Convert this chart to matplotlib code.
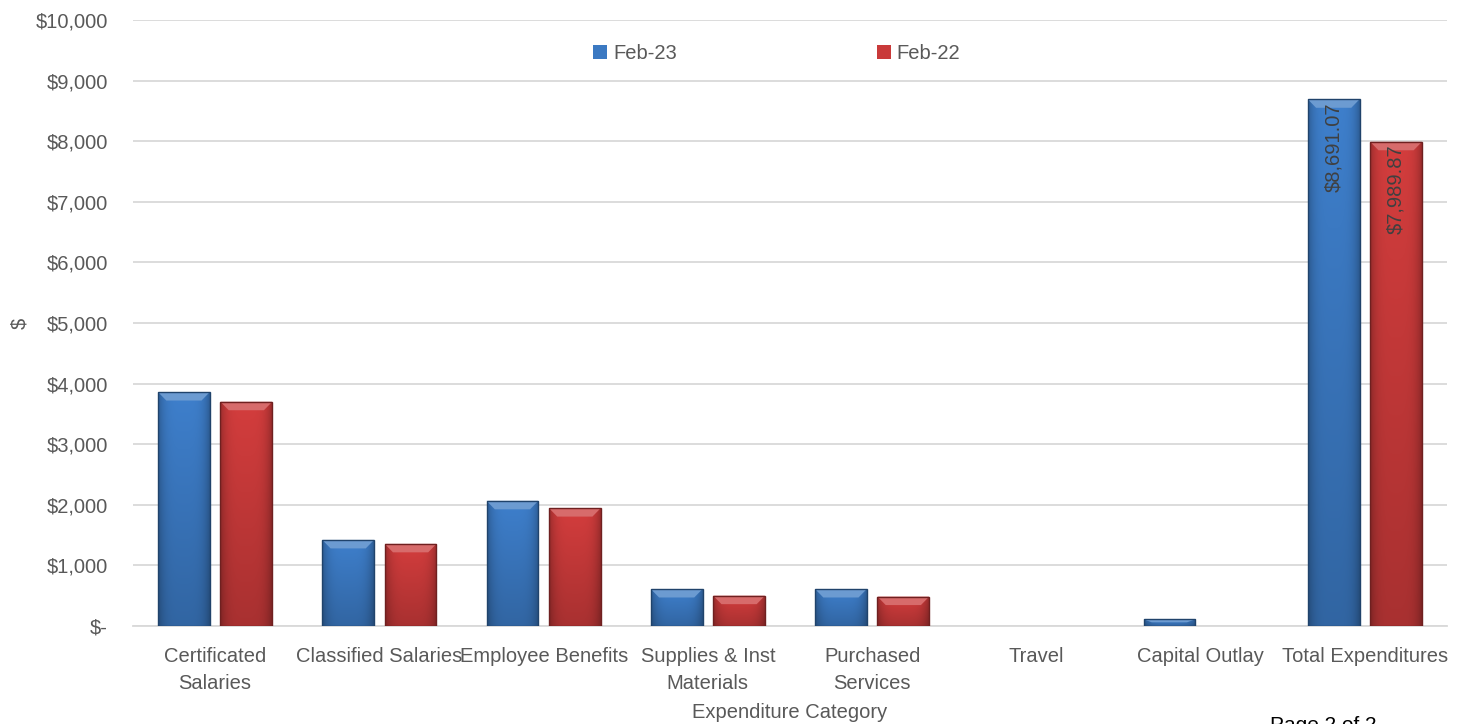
import numpy as np
import matplotlib.pyplot as plt
from matplotlib.patches import Polygon
from matplotlib.colors import to_rgb
from matplotlib.ticker import FuncFormatter

plt.rcParams['font.family'] = ['Liberation Sans', 'DejaVu Sans']

categories = ['Certificated\nSalaries', 'Classified Salaries', 'Employee Benefits',
              'Supplies & Inst\nMaterials', 'Purchased\nServices', 'Travel',
              'Capital Outlay', 'Total Expenditures']
feb23 = [3860, 1420, 2065, 610, 610, 0, 110, 8691.07]
feb22 = [3700, 1355, 1945, 500, 485, 0, 0, 7989.87]
series_names = ['Feb-23', 'Feb-22']
yticks = [0, 1000, 2000, 3000, 4000, 5000, 6000, 7000, 8000, 9000, 10000]

BLUE = '#3B79C2'
RED = '#C93A3A'
TEXT = '#595959'
FS = 14.5


def shade(c, f):
    r = np.array(to_rgb(c))
    if f >= 1:
        return tuple(r + (1 - r) * (f - 1))
    return tuple(r * f)


def bevel_bar(ax, patch, color):
    x, w, h = patch.get_x(), patch.get_width(), patch.get_height()
    if h <= 0:
        return
    # gradient fill: darker at edges and bottom
    gx = np.linspace(-1, 1, 40)
    gy = np.linspace(0, 1, 40)[:, None]
    edge = 1 - 0.25 * np.abs(gx) ** 4
    vert = 0.80 + 0.2 * gy
    fac = edge[None, :] * vert
    base = np.array(to_rgb(color))
    img = np.clip(base[None, None, :] * fac[:, :, None] * 1.05, 0, 1)
    im = ax.imshow(img, extent=(x, x + w, 0, h), origin='lower', aspect='auto',
                   zorder=3, interpolation='bilinear')
    im.set_clip_path(patch)
    # top bevel highlight
    dy = min(140, h * 0.45)
    dx = w * 0.16
    top = Polygon([(x, h), (x + w, h), (x + w - dx, h - dy), (x + dx, h - dy)],
                  closed=True, facecolor=shade(color, 1.25), edgecolor='none', zorder=4)
    ax.add_patch(top)
    # dark outline
    ax.add_patch(Polygon([(x, 0), (x, h), (x + w, h), (x + w, 0)], closed=True,
                         facecolor='none', edgecolor=shade(color, 0.55), lw=1.0, zorder=5))


fig = plt.figure(figsize=(14.62, 7.24), dpi=100)
ax = fig.add_axes([133 / 1462, 0.1354, 1314 / 1462, 0.837])

x = np.arange(len(categories))
w = 0.315
off = 0.19
b1 = ax.bar(x - off, feb23, w, color=BLUE, label=series_names[0], zorder=2)
b2 = ax.bar(x + off, feb22, w, color=RED, label=series_names[1], zorder=2)
for p in b1:
    bevel_bar(ax, p, BLUE)
for p in b2:
    bevel_bar(ax, p, RED)

# value labels on the totals
for bars, vals in ((b1, feb23), (b2, feb22)):
    p = bars[-1]
    ax.text(p.get_x() + p.get_width() / 2, vals[-1] - 50, f'${vals[-1]:,.2f}',
            rotation=90, ha='center', va='top', fontsize=FS, color='#404040', zorder=6)

ax.set_xlim(-0.5, len(categories) - 0.5)
ax.set_ylim(0, 10000)
ax.set_yticks(yticks)
ax.yaxis.set_major_formatter(FuncFormatter(lambda v, _: '$-' if v == 0 else f'${v:,.0f}'))
ax.set_xticks(x)
ax.set_xticklabels(categories, linespacing=1.55)
ax.tick_params(axis='both', length=0, labelsize=FS, labelcolor=TEXT)
ax.tick_params(axis='y', pad=18)
ax.tick_params(axis='x', pad=15)
ax.grid(axis='y', color='#D9D9D9', lw=1.3, zorder=0)
ax.set_axisbelow(True)
for s in ['top', 'right', 'left']:
    ax.spines[s].set_visible(False)
ax.spines['bottom'].set_color('#D9D9D9')
ax.spines['bottom'].set_linewidth(1.3)

ax.set_ylabel('$', fontsize=FS, color=TEXT)
ax.yaxis.set_label_coords(-0.079, 0.5)
ax.set_xlabel('Expenditure Category', fontsize=FS, color=TEXT)
ax.xaxis.set_label_coords(0.5, -0.127)

leg = ax.legend(loc='upper center', bbox_to_anchor=(0.49, 0.99), ncol=2, frameon=False,
                fontsize=FS, handlelength=0.7, handleheight=0.7, handletextpad=0.3,
                columnspacing=9.9)
for t in leg.get_texts():
    t.set_color(TEXT)

fig.text(0.869, 0.011, 'Page 2 of 2', fontsize=15, color='black', va='top')

fig.savefig('out.png', dpi=100)
